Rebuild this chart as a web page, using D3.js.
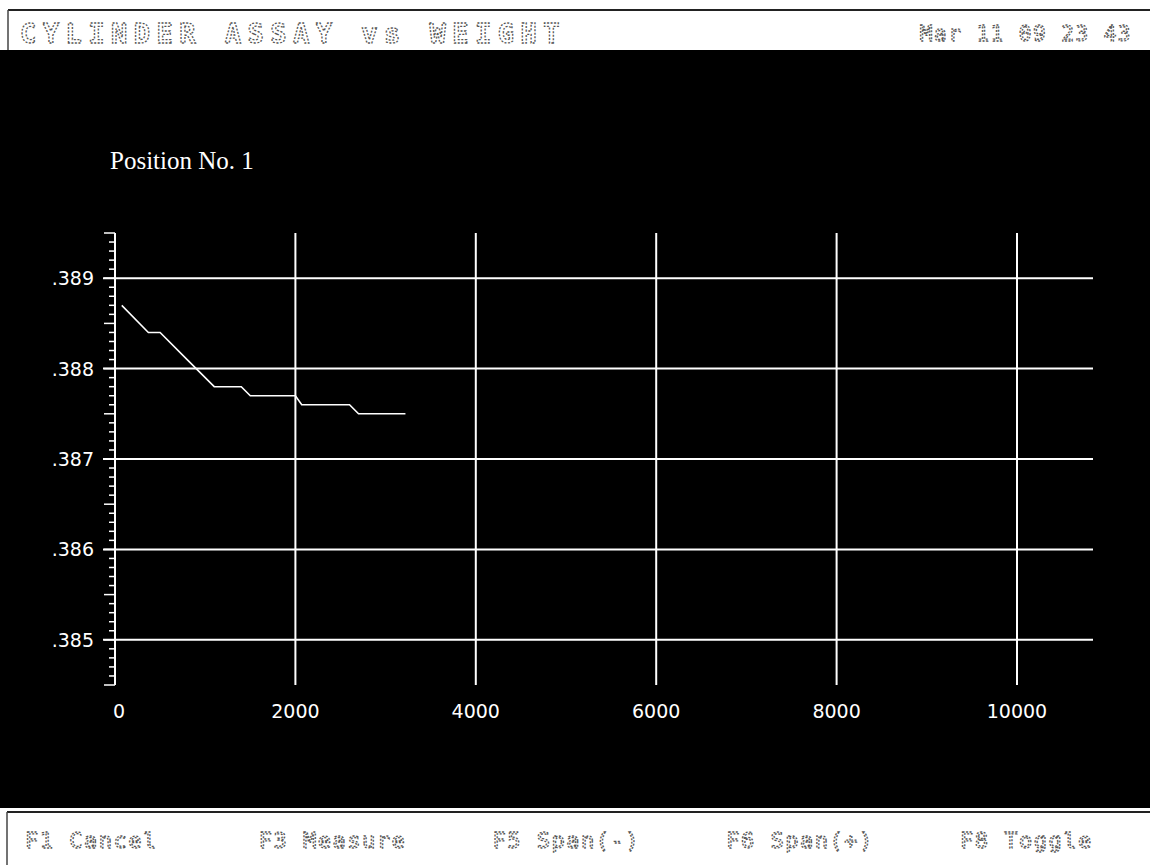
<!DOCTYPE html>
<html>
<head>
<meta charset="utf-8">
<script src="https://cdn.jsdelivr.net/npm/d3@7"></script>
<style>
  body { margin: 0; background: #fff; }
  svg { display: block; }
</style>
</head>
<body>
<svg id="chart"></svg>
<script>
// weight (x) vs cylinder assay (y)
const weights = [75, 370, 500, 800, 1100, 1400, 1500, 2000, 2070, 2600, 2700, 3220];
const assays  = [.3887, .3884, .3884, .3881, .3878, .3878, .3877, .3877, .3876, .3876, .3875, .3875];

const xTicks = [0, 2000, 4000, 6000, 8000, 10000];
const yTicks = [.385, .386, .387, .388, .389];
const footerKeys = ['F1  Cancel', 'F3  Measure', 'F5  Span(-)', 'F6  Span(+)', 'F8  Toggle'];

const width = 1150, height = 865;
const svg = d3.select('#chart').attr('width', width).attr('height', height);

// header / footer frames
svg.append('rect').attr('x', 0).attr('y', 50).attr('width', width).attr('height', 758).attr('fill', '#000');
svg.append('line').attr('x1', 8).attr('x2', width).attr('y1', 10).attr('y2', 10).attr('stroke', '#222').attr('stroke-width', 2);
svg.append('line').attr('x1', 8).attr('x2', 8).attr('y1', 10).attr('y2', 50).attr('stroke', '#444').attr('stroke-width', 1.5);
svg.append('line').attr('x1', 7).attr('x2', width).attr('y1', 812).attr('y2', 812).attr('stroke', '#222').attr('stroke-width', 2);
svg.append('line').attr('x1', 7).attr('x2', 7).attr('y1', 812).attr('y2', 865).attr('stroke', '#444').attr('stroke-width', 1.5);

const dither = sel => sel
  .attr('fill', '#fff').attr('stroke', '#555').attr('stroke-width', 1.3).attr('stroke-dasharray', '2 1.5');

svg.append('text')
  .attr('x', 20).attr('y', 43)
  .attr('font-family', 'DejaVu Sans Mono').attr('font-size', 27).attr('font-weight', 'bold')
  .attr('letter-spacing', 6.5)
  .call(dither)
  .text('CYLINDER  ASSAY  vs  WEIGHT');

svg.append('text')
  .attr('x', 1132).attr('y', 41).attr('text-anchor', 'end')
  .attr('font-family', 'DejaVu Sans Mono').attr('font-size', 21)
  .attr('letter-spacing', 1.5)
  .call(dither)
  .text('Mar 11 09 23 43');

const footerX = d3.scalePoint().domain(footerKeys).range([25, 960]);
svg.append('g').selectAll('text')
  .data(footerKeys)
  .join('text')
    .attr('x', d => footerX(d)).attr('y', 848)
    .attr('font-family', 'DejaVu Sans Mono').attr('font-size', 22)
    .attr('letter-spacing', 1.5)
    .call(dither)
    .text(d => d);

// scales
const x = d3.scaleLinear().domain([0, 10000]).range([115, 1017]);
const y = d3.scaleLinear().domain([.3845, .3895]).range([685, 233]);

svg.append('text')
  .attr('x', 110).attr('y', 169)
  .attr('font-family', 'Liberation Serif').attr('font-size', 25)
  .attr('fill', '#fff')
  .text('Position  No. 1');

// horizontal grid
svg.append('g').selectAll('line')
  .data(yTicks)
  .join('line')
    .attr('x1', 103).attr('x2', 1093)
    .attr('y1', d => y(d)).attr('y2', d => y(d))
    .attr('stroke', '#fff').attr('stroke-width', 2);

// vertical grid
svg.append('g').selectAll('line')
  .data(xTicks)
  .join('line')
    .attr('x1', d => x(d)).attr('x2', d => x(d))
    .attr('y1', 233).attr('y2', 685)
    .attr('stroke', '#fff').attr('stroke-width', 2);

// minor ticks on y axis
const minor = d3.range(0, 51).map(i => .3845 + i * .0001);
svg.append('g').selectAll('line')
  .data(minor)
  .join('line')
    .attr('x1', (d, i) => i % 5 === 0 ? 104 : 109).attr('x2', 115)
    .attr('y1', d => y(d)).attr('y2', d => y(d))
    .attr('stroke', '#fff').attr('stroke-width', 1.5);

// tick labels
const lblFont = 'DejaVu Sans';
svg.append('g').selectAll('text')
  .data(yTicks)
  .join('text')
    .attr('x', 94).attr('y', d => y(d) + 7)
    .attr('text-anchor', 'end')
    .attr('font-family', lblFont).attr('font-size', 19)
    .attr('fill', '#fff')
    .text(d => d3.format('.3f')(d).replace(/^0/, ''));

svg.append('g').selectAll('text')
  .data(xTicks)
  .join('text')
    .attr('x', d => x(d) + (d === 0 ? 4 : 0)).attr('y', 718)
    .attr('text-anchor', 'middle')
    .attr('font-family', lblFont).attr('font-size', 19)
    .attr('fill', '#fff')
    .text(d => d);

// trace
const pts = weights.map((w, i) => [w, assays[i]]);
svg.append('path')
  .datum(pts)
  .attr('fill', 'none').attr('stroke', '#fff').attr('stroke-width', 1.6)
  .attr('d', d3.line().x(d => x(d[0])).y(d => y(d[1])));
</script>
</body>
</html>
